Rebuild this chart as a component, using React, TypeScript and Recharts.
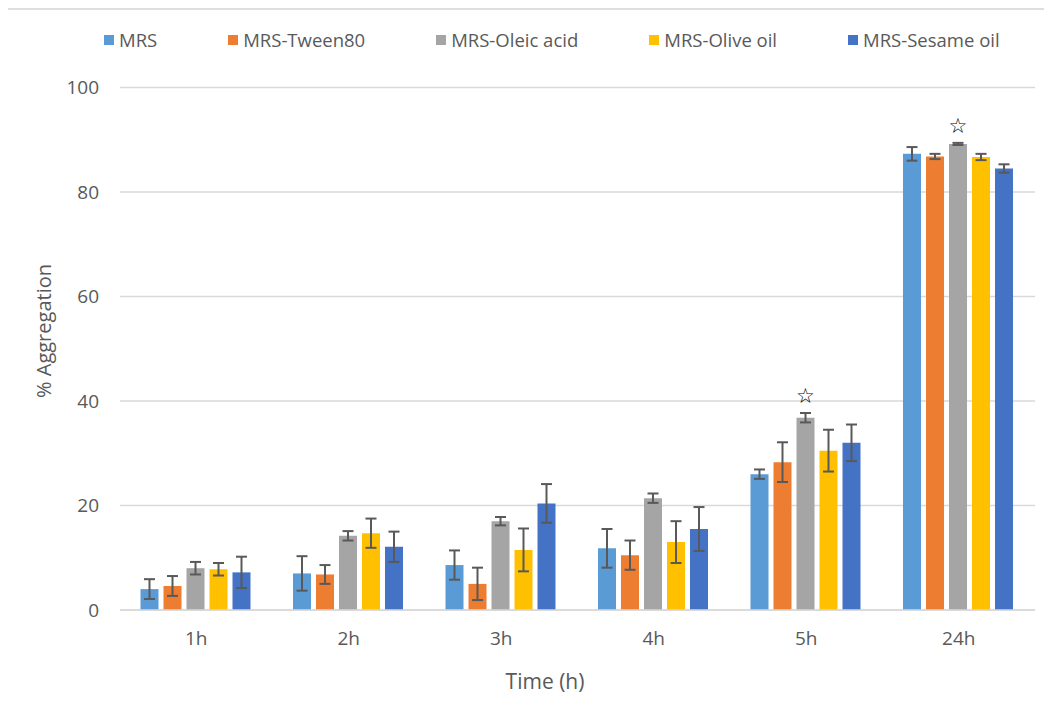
import React from "react";
import { BarChart, Bar, XAxis, YAxis, CartesianGrid, ErrorBar, LabelList, Label } from "recharts";

const TIMES = ["1h", "2h", "3h", "4h", "5h", "24h"];
const SERIES = ["MRS", "MRS-Tween80", "MRS-Oleic acid", "MRS-Olive oil", "MRS-Sesame oil"];
const COLORS = ["#5B9BD5", "#ED7D31", "#A5A5A5", "#FFC000", "#4472C4"];

// mean % aggregation and standard deviation per time point
const MRS = [4.0, 7.0, 8.6, 11.8, 26.0, 87.3];
const MRS_SD = [1.9, 3.3, 2.8, 3.7, 0.9, 1.3];
const TWEEN = [4.6, 6.8, 5.0, 10.5, 28.3, 86.8];
const TWEEN_SD = [1.9, 1.8, 3.1, 2.8, 3.8, 0.5];
const OLEIC = [8.0, 14.2, 17.0, 21.4, 36.8, 89.2];
const OLEIC_SD = [1.2, 0.9, 0.8, 0.9, 0.9, 0.2];
const OLIVE = [7.8, 14.7, 11.5, 13.0, 30.5, 86.7];
const OLIVE_SD = [1.2, 2.8, 4.1, 4.0, 4.0, 0.6];
const SESAME = [7.2, 12.1, 20.4, 15.5, 32.0, 84.5];
const SESAME_SD = [3.0, 2.9, 3.7, 4.2, 3.5, 0.8];
const SIGNIFICANCE = ["", "", "", "", "☆", "☆"];

const Y_TICKS = [0, 20, 40, 60, 80, 100];

const MEANS = [MRS, TWEEN, OLEIC, OLIVE, SESAME];
const SDS = [MRS_SD, TWEEN_SD, OLEIC_SD, OLIVE_SD, SESAME_SD];

const data = TIMES.map((time, i) => {
  const row: Record<string, any> = { time, sig: SIGNIFICANCE[i] };
  MEANS.forEach((arr, s) => {
    row[`s${s}`] = arr[i];
    row[`e${s}`] = SDS[s][i];
  });
  return row;
});

const FONT = "'Open Sans', 'Noto Sans', sans-serif";
const TEXT = "#595959";

// hollow star drawn above the oleic acid error bar
const renderStar = (props: any) => {
  const { x, y, width, height, value, index } = props;
  if (!value) return null;
  const pxPerUnit = height / OLEIC[index];
  const errPx = OLEIC_SD[index] * pxPerUnit;
  return (
    <text
      x={x + width / 2}
      y={y - errPx - 17}
      textAnchor="middle"
      dominantBaseline="central"
      fontSize={21}
      fontFamily="'DejaVu Sans', sans-serif"
      fill="#000"
    >
      {value}
    </text>
  );
};

function ChartLegend() {
  return (
    <div
      style={{
        position: "absolute",
        left: 104,
        top: 29,
        display: "flex",
        alignItems: "center",
        gap: 71,
        fontFamily: FONT,
        fontSize: 18.5,
        color: TEXT,
        lineHeight: "22px",
        whiteSpace: "nowrap",
      }}
    >
      {SERIES.map((name, i) => (
        <div key={name} style={{ display: "flex", alignItems: "center" }}>
          <span style={{ width: 10, height: 10, background: COLORS[i], marginRight: 5 }} />
          <span>{name}</span>
        </div>
      ))}
    </div>
  );
}

export default function App() {
  return (
    <div
      style={{
        position: "relative",
        width: 1052,
        height: 710,
        margin: -8,
        overflow: "hidden",
        background: "#fff",
      }}
    >
      <div
        style={{
          position: "absolute",
          left: 6,
          top: 8,
          width: 1100,
          height: 800,
          border: "2px solid #dedede",
        }}
      />
      <ChartLegend />
      <div style={{ position: "absolute", left: 0, top: 0 }}>
        <BarChart
          width={1052}
          height={710}
          data={data}
          margin={{ top: 87.5, right: 17, bottom: 60, left: 20 }}
          barCategoryGap={20.5}
          barGap={5}
        >
          <CartesianGrid vertical={false} stroke="#d9d9d9" strokeWidth={1.5} />
          <XAxis
            dataKey="time"
            height={40}
            tickSize={0}
            tickMargin={22}
            axisLine={{ stroke: "#d9d9d9", strokeWidth: 1.5 }}
            tick={{ fill: TEXT, fontSize: 19, fontFamily: FONT }}
          >
            <Label
              content={() => (
                <text x={545} y={681} textAnchor="middle" dominantBaseline="central" fontSize={21} fontFamily={FONT} fill={TEXT}>
                  Time (h)
                </text>
              )}
            />
          </XAxis>
          <YAxis
            width={100}
            domain={[0, 100]}
            ticks={Y_TICKS}
            tickSize={0}
            tickMargin={21}
            axisLine={false}
            tick={{ fill: TEXT, fontSize: 19, fontFamily: FONT }}
          >
            <Label
              content={() => (
                <text
                  x={43}
                  y={331}
                  transform="rotate(-90 43 331)"
                  textAnchor="middle"
                  dominantBaseline="central"
                  fontSize={20}
                  fontFamily={FONT}
                  fill={TEXT}
                >
                  % Aggregation
                </text>
              )}
            />
          </YAxis>
          {SERIES.map((name, s) => (
            <Bar key={name} dataKey={`s${s}`} name={name} fill={COLORS[s]} isAnimationActive={false}>
              <ErrorBar dataKey={`e${s}`} width={5.5} stroke="#595959" strokeWidth={2} direction="y" />
              {s === 2 && <LabelList dataKey="sig" content={renderStar} />}
            </Bar>
          ))}
        </BarChart>
      </div>
    </div>
  );
}
